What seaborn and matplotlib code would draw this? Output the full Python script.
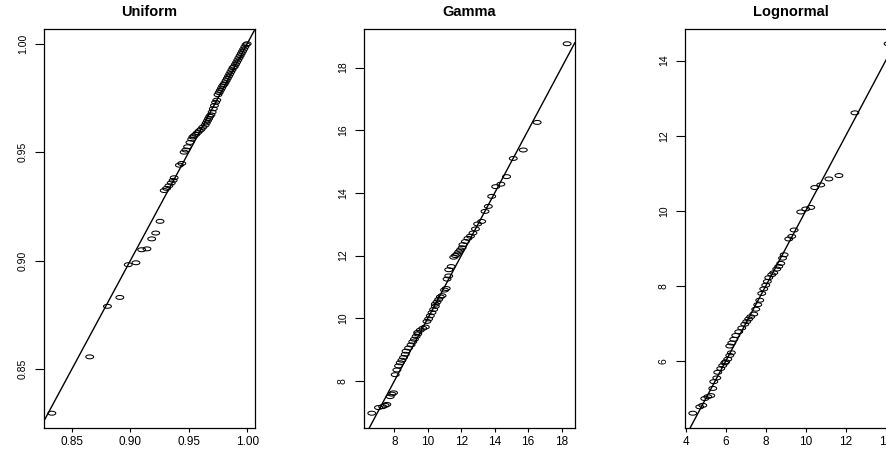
import numpy as np
import matplotlib
matplotlib.use("Agg")
import matplotlib.pyplot as plt
from matplotlib.path import Path
import seaborn as sns

#-- Veriler (grafikten okunan yaklasik degerler)

titles = ["Uniform", "Gamma", "Lognormal"]

unif_x = [0.8328, 0.8652, 0.8804, 0.8910, 0.8982, 0.9048, 0.9097, 0.9142, 0.9183, 0.9217,
          0.9254, 0.9290, 0.9310, 0.9330, 0.9350, 0.9366, 0.9375, 0.9420, 0.9440, 0.9460,
          0.9475, 0.9490, 0.9510, 0.9525, 0.9535, 0.9545, 0.9560, 0.9575, 0.9590, 0.9605,
          0.9620, 0.9640, 0.9650, 0.9660, 0.9670, 0.9680, 0.9690, 0.9700, 0.9710, 0.9720,
          0.9730, 0.9740, 0.9750, 0.9760, 0.9770, 0.9780, 0.9790, 0.9800, 0.9810, 0.9820,
          0.9830, 0.9840, 0.9850, 0.9860, 0.9870, 0.9880, 0.9890, 0.9900, 0.9910, 0.9920,
          0.9930, 0.9940, 0.9950, 0.9960, 0.9970, 0.9980, 0.9990, 1.0000]
unif_y = [0.8296, 0.8556, 0.8789, 0.8830, 0.8981, 0.8990, 0.9050, 0.9054, 0.9100, 0.9127,
          0.9181, 0.9323, 0.9333, 0.9345, 0.9358, 0.9370, 0.9382, 0.9440, 0.9448, 0.9500,
          0.9510, 0.9525, 0.9545, 0.9560, 0.9570, 0.9575, 0.9582, 0.9590, 0.9598, 0.9605,
          0.9615, 0.9625, 0.9635, 0.9645, 0.9655, 0.9665, 0.9672, 0.9685, 0.9700, 0.9715,
          0.9730, 0.9740, 0.9765, 0.9775, 0.9785, 0.9795, 0.9805, 0.9812, 0.9820, 0.9830,
          0.9840, 0.9850, 0.9860, 0.9870, 0.9880, 0.9890, 0.9895, 0.9905, 0.9915, 0.9925,
          0.9935, 0.9945, 0.9955, 0.9965, 0.9975, 0.9985, 0.9995, 1.0000]

gamma_x = [6.65, 7.05, 7.30, 7.45, 7.55, 7.75, 7.85, 7.95, 8.05, 8.15,
           8.25, 8.35, 8.45, 8.55, 8.65, 8.70, 8.85, 9.00, 9.10, 9.20,
           9.30, 9.40, 9.40, 9.55, 9.70, 9.85, 9.95, 10.05, 10.15, 10.25,
           10.35, 10.45, 10.45, 10.55, 10.65, 10.75, 10.85, 11.00, 11.10, 11.15,
           11.25, 11.25, 11.40, 11.55, 11.65, 11.75, 11.85, 11.95, 12.05, 12.10,
           12.25, 12.40, 12.55, 12.70, 12.85, 12.98, 13.22, 13.42, 13.62, 13.82,
           14.06, 14.37, 14.71, 15.11, 15.71, 16.54, 18.33]
gamma_y = [6.97, 7.15, 7.18, 7.22, 7.25, 7.50, 7.58, 7.62, 8.20, 8.35,
           8.48, 8.58, 8.66, 8.75, 8.85, 8.95, 9.05, 9.15, 9.25, 9.33,
           9.42, 9.50, 9.55, 9.62, 9.68, 9.72, 9.90, 9.98, 10.08, 10.18,
           10.28, 10.38, 10.45, 10.52, 10.60, 10.68, 10.72, 10.90, 10.95, 11.25,
           11.35, 11.55, 11.65, 11.95, 12.00, 12.05, 12.12, 12.18, 12.25, 12.35,
           12.45, 12.55, 12.62, 12.72, 12.85, 13.01, 13.09, 13.41, 13.57, 13.89,
           14.20, 14.28, 14.52, 15.10, 15.37, 16.25, 18.76]

lnorm_x = [4.35, 4.70, 4.85, 4.95, 5.10, 5.25, 5.35, 5.40, 5.55, 5.60,
           5.75, 5.85, 5.95, 6.00, 6.10, 6.20, 6.28, 6.20, 6.30, 6.40,
           6.50, 6.65, 6.80, 6.95, 7.05, 7.15, 7.25, 7.40, 7.50, 7.60,
           7.70, 7.80, 7.90, 8.00, 8.08, 8.15, 8.30, 8.40, 8.55, 8.65,
           8.75, 8.84, 8.92, 9.15, 9.30, 9.42, 9.75, 10.00, 10.25, 10.45,
           10.75, 11.16, 11.66, 12.46, 14.12]
lnorm_y = [4.61, 4.78, 4.82, 5.00, 5.05, 5.08, 5.27, 5.45, 5.55, 5.70,
           5.80, 5.88, 5.95, 5.98, 6.05, 6.15, 6.22, 6.40, 6.48, 6.58,
           6.68, 6.78, 6.88, 6.98, 7.05, 7.12, 7.18, 7.25, 7.38, 7.50,
           7.62, 7.80, 7.92, 8.02, 8.12, 8.22, 8.30, 8.35, 8.45, 8.52,
           8.60, 8.74, 8.83, 9.25, 9.32, 9.49, 9.97, 10.05, 10.09, 10.62,
           10.69, 10.85, 10.94, 12.61, 14.45]

unif_ticks = [0.85, 0.90, 0.95, 1.00]
gamma_ticks = [8, 10, 12, 14, 16, 18]
lnorm_xticks = [4, 6, 8, 10, 12, 14]
lnorm_yticks = [6, 8, 10, 12, 14]

#-- Cizim

sns.set_style("ticks")
plt.rcParams['font.family'] = ['Liberation Sans', 'DejaVu Sans']
plt.rcParams['text.color'] = 'black'

fig = plt.figure(figsize=(8.86, 4.5), dpi=100)

# R'daki "o" isaretleri resimde yatay elips gibi gorunuyor
t = np.linspace(0, 2 * np.pi, 41)
ellipse = Path(np.column_stack([np.cos(t), 0.5 * np.sin(t)]), closed=True)

panels = [
    (titles[0], unif_x, unif_y, 0.0497, unif_ticks, unif_ticks, "%.2f"),
    (titles[1], gamma_x, gamma_y, 0.4108, gamma_ticks, gamma_ticks, "%d"),
    (titles[2], lnorm_x, lnorm_y, 0.7731, lnorm_xticks, lnorm_yticks, "%d"),
]

for title, x, y, left, xt, yt, fmt in panels:
    ax = fig.add_axes([left, 0.0489, 0.2381, 0.8867])
    sns.scatterplot(x=x, y=y, ax=ax, marker=ellipse, s=32, color="black",
                    facecolor="none", edgecolor="black", linewidth=0.75)

    # R gibi veri araliginin %4'u kadar bosluk
    rx = max(x) - min(x)
    ry = max(y) - min(y)
    ax.set_xlim(min(x) - 0.04 * rx, max(x) + 0.04 * rx)
    ax.set_ylim(min(y) - 0.04 * ry, max(y) + 0.04 * ry)

    ax.axline((0, 0), slope=1, color="black", lw=1.0)

    ax.set_xticks(xt)
    ax.set_yticks(yt)
    ax.set_xticklabels([fmt % v for v in xt])
    ax.set_yticklabels([fmt % v for v in yt])
    ax.tick_params(axis="x", length=3, width=0.8, labelsize=8.5, pad=3, colors="black")
    ax.tick_params(axis="y", length=6.5, width=0.8, labelsize=7.5, pad=5,
                   labelrotation=90, colors="black")
    for lab in ax.get_yticklabels():
        lab.set_va("center")

    for sp in ax.spines.values():
        sp.set_color("black")
        sp.set_linewidth(0.9)

    ax.set_title(title, fontsize=10.5, fontweight="bold", pad=9, color="black")

fig.savefig("out.png", dpi=100)
